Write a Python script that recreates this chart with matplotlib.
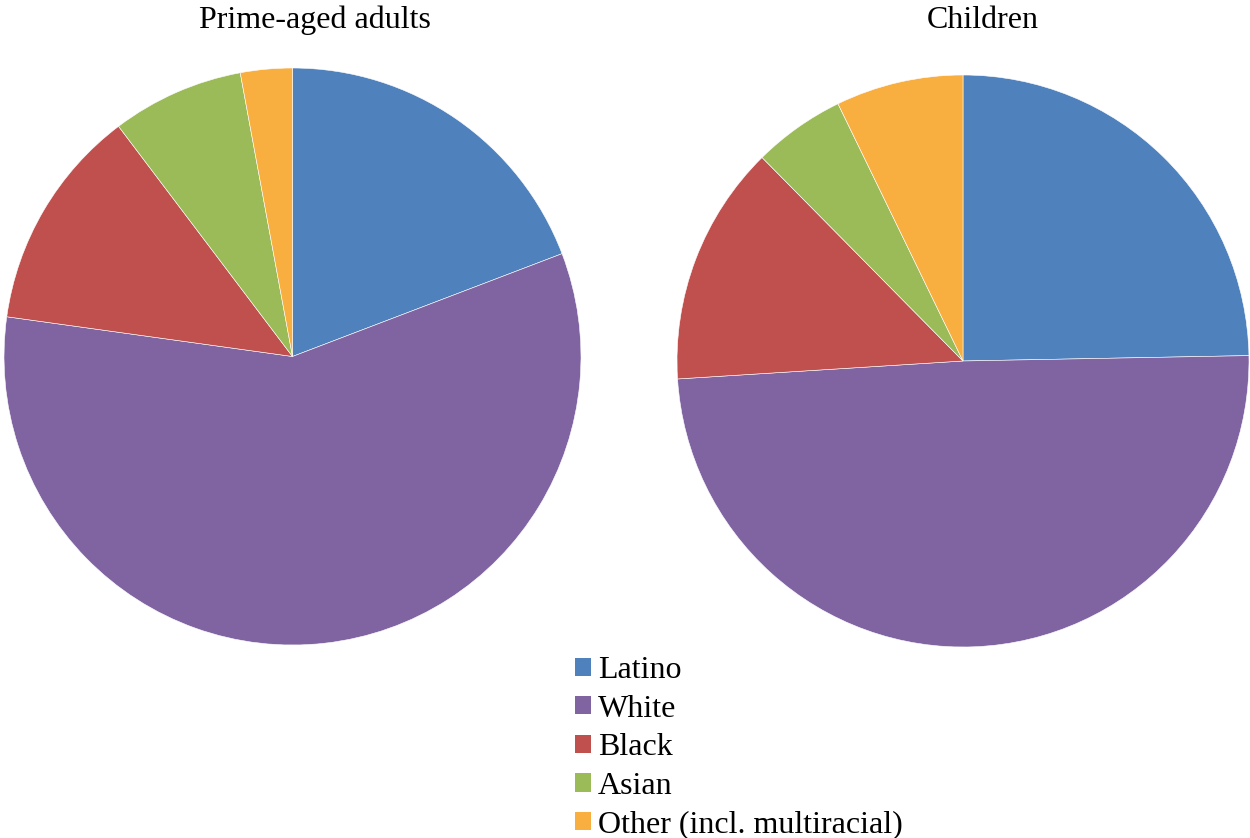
import matplotlib.pyplot as plt
from matplotlib.patches import Patch

# Population shares by race/ethnicity (%), clockwise from 12 o'clock
groups = ["Latino", "White", "Black", "Asian", "Other (incl. multiracial)"]
adults_share = [19.2, 58.0, 12.5, 7.4, 2.9]
children_share = [24.7, 49.3, 13.6, 5.2, 7.2]
titles = ["Prime-aged adults", "Children"]

colors = ["#4F81BD", "#8064A2", "#C0504D", "#9BBB59", "#F9AE40"]

plt.rcParams["font.family"] = ["Liberation Serif", "DejaVu Serif"]

W, H = 1250, 838
fig = plt.figure(figsize=(W / 100, H / 100), dpi=100)


def pie_axes(cx, cy, r):
    # axes box in figure fractions from a centre/radius in pixels
    return fig.add_axes([(cx - r) / W, 1 - (cy + r) / H, 2 * r / W, 2 * r / H])


ax_left = pie_axes(292.5, 356.5, 288.5)
ax_right = pie_axes(963, 361, 286)

for ax, shares in [(ax_left, adults_share), (ax_right, children_share)]:
    ax.pie(shares, colors=colors, startangle=90, counterclock=False,
           radius=1, wedgeprops=dict(linewidth=0.4, edgecolor="white"))
    ax.set_xlim(-1, 1)
    ax.set_ylim(-1, 1)
    ax.set_aspect("equal")
    ax.axis("off")

fig.text(315 / W, 1 - 20 / H, titles[0], ha="center", va="center", fontsize=23)
fig.text(983 / W, 1 - 20 / H, titles[1], ha="center", va="center", fontsize=23)

handles = [Patch(facecolor=c, edgecolor="none", label=g) for c, g in zip(colors, groups)]
fig.legend(handles=handles, loc="upper left", bbox_to_anchor=(575 / W, 1 - 656 / H),
           frameon=False, fontsize=23, borderpad=0, borderaxespad=0,
           handlelength=0.5, handleheight=0.5, handletextpad=0.22,
           labelspacing=0.3)

fig.savefig("out.png", dpi=100)
